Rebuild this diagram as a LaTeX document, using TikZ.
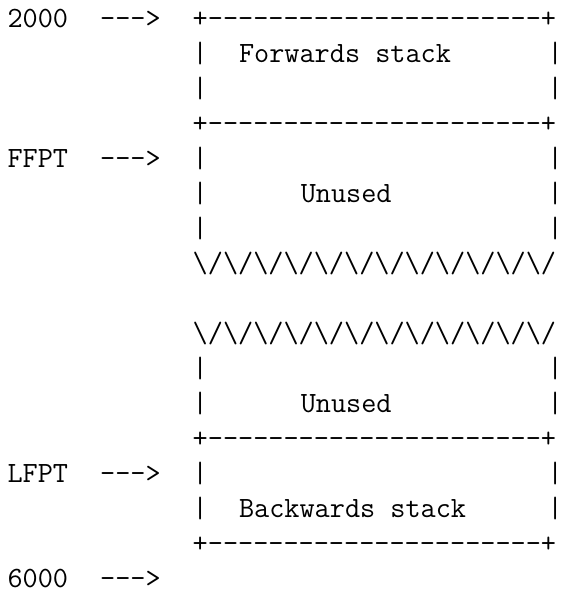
\documentclass[tikz,border=0pt]{standalone}
\begin{document}
% Memory map drawn as a character grid: one x unit = one monospace column,
% one y unit = one text line (baselines).
\begin{tikzpicture}[x=7.7175pt, y=-17.47pt,
  cell/.style={anchor=base west, inner sep=0pt, outer sep=0pt,
               font=\fontsize{14.7}{17.5}\selectfont\ttfamily}]
  \useasboundingbox (-0.486,-0.8014) rectangle (35.860,16.171);

  \def\boxedge{+----------------------+}
  \def\zigzag{\textbackslash/\textbackslash/\textbackslash/\textbackslash/\textbackslash/\textbackslash/\textbackslash/\textbackslash/\textbackslash/\textbackslash/\textbackslash/\textbackslash/}

  % row 0
  \node[cell] (a2000)  at (0,0)  {2000};
  \node[cell] (p2000)  at (6,0)  {--->};
  \node[cell] (topA)   at (12,0) {\boxedge};
  % forwards stack block
  \node[cell] (l1)     at (12,1) {|};
  \node[cell] (fwd)    at (15,1) {Forwards stack};
  \node[cell] (r1)     at (35,1) {|};
  \node[cell] (l2)     at (12,2) {|};
  \node[cell] (r2)     at (35,2) {|};
  \node[cell] (botA)   at (12,3) {\boxedge};
  % upper unused block
  \node[cell] (affpt)  at (0,4)  {FFPT};
  \node[cell] (pffpt)  at (6,4)  {--->};
  \node[cell] (l4)     at (12,4) {|};
  \node[cell] (r4)     at (35,4) {|};
  \node[cell] (l5)     at (12,5) {|};
  \node[cell] (un1)    at (19,5) {Unused};
  \node[cell] (r5)     at (35,5) {|};
  \node[cell] (l6)     at (12,6) {|};
  \node[cell] (r6)     at (35,6) {|};
  \node[cell] (zz1)    at (12,7) {\zigzag};
  % lower unused block
  \node[cell] (zz2)    at (12,9) {\zigzag};
  \node[cell] (l10)    at (12,10) {|};
  \node[cell] (r10)    at (35,10) {|};
  \node[cell] (l11)    at (12,11) {|};
  \node[cell] (un2)    at (19,11) {Unused};
  \node[cell] (r11)    at (35,11) {|};
  \node[cell] (topB)   at (12,12) {\boxedge};
  % backwards stack block
  \node[cell] (alfpt)  at (0,13)  {LFPT};
  \node[cell] (plfpt)  at (6,13)  {--->};
  \node[cell] (l13)    at (12,13) {|};
  \node[cell] (r13)    at (35,13) {|};
  \node[cell] (l14)    at (12,14) {|};
  \node[cell] (bwd)    at (15,14) {Backwards stack};
  \node[cell] (r14)    at (35,14) {|};
  \node[cell] (botB)   at (12,15) {\boxedge};
  % row 16
  \node[cell] (a6000)  at (0,16)  {6000};
  \node[cell] (p6000)  at (6,16)  {--->};
\end{tikzpicture}
\end{document}
